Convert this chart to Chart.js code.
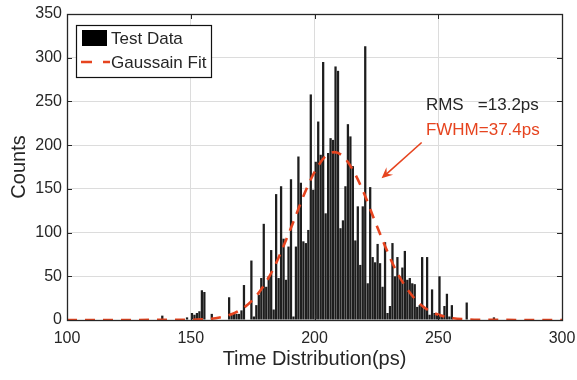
<!DOCTYPE html>
<html>
<head>
<meta charset="utf-8">
<script src="https://cdn.jsdelivr.net/npm/chart.js@4.4.1/dist/chart.umd.min.js"></script>
<style>
  html, body { margin: 0; padding: 0; background: #fff; }
  #wrap { width: 577px; height: 380px; }
</style>
</head>
<body>
<div id="wrap"><canvas id="chart" width="577" height="380"></canvas></div>
<script>
// Histogram: 1 ps bins, first bin starts at 135 ps
const binStart = 135;
const counts = [
  0, 0, 0, 5, 0, 0, 0, 0, 0, 0, 0, 0, 0, 3, 0,          // 135-149
  8, 6, 8, 10, 34, 32, 0, 0, 7, 0,                     // 150-159
  0, 0, 0, 0, 0, 26, 8, 7, 7, 7,                       // 160-169
  11, 40, 0, 0, 68, 4, 17, 29, 48, 110,                // 170-179
  38, 50, 80, 12, 144, 48, 153, 93, 46, 84,            // 180-189
  161, 4, 84, 187, 157, 90, 88, 103, 258, 149,         // 190-199
  181, 227, 189, 295, 122, 191, 208, 206, 290, 285,    // 200-209
  105, 114, 153, 224, 210, 176, 91, 130, 63, 130,      // 210-219
  313, 42, 152, 72, 66, 87, 65, 38, 89, 8,             // 220-229
  16, 88, 50, 72, 50, 60, 79, 46, 48, 42,              // 230-239
  41, 15, 17, 72, 13, 72, 6, 35, 8, 6,                 // 240-249
  50, 6, 16, 30, 4, 17, 0, 0, 0, 0,                    // 250-259
  0, 20, 0, 0, 0, 0, 0, 0, 0, 0,                       // 260-269
  0, 0, 3, 0, 0                                        // 270-274
];

// Gaussian fit curve
const fitX = [100, 150, 156, 160, 164, 168, 172, 176, 180, 184, 188, 192, 196, 200, 204, 208,
              212, 216, 220, 224, 228, 232, 236, 240, 244, 248, 252, 256, 260, 266, 300];
const fitY = [0, 0.3, 1, 2.1, 4.4, 8.4, 15.3, 26, 41.5, 62, 88, 116, 145, 169, 186, 192,
              186, 169, 145, 116, 88, 62, 41.5, 26, 15, 8.4, 4.4, 2.1, 1, 0.3, 0];

const xTicks = [100, 150, 200, 250, 300];
const yTicks = [0, 50, 100, 150, 200, 250, 300, 350];

const histLabel = 'Test Data';
const fitLabel = 'Gaussain Fit';
const rmsText = 'RMS   =13.2ps';
const fwhmText = 'FWHM=37.4ps';

const TEXT = '#262626';
const RED = '#e6441f';
const FONT = 'Arial, "Liberation Sans", Helvetica, sans-serif';

const histPoints = counts.map((c, i) => ({ x: binStart + i + 0.5, y: c }));
const fitPoints = fitX.map((x, i) => ({ x, y: fitY[i] }));

// box, inward ticks, legend and text notes
const decorations = {
  id: 'decorations',
  afterDraw(chart) {
    const { ctx, chartArea: a, scales: { x, y } } = chart;
    ctx.save();

    // grid ticks pointing inwards on all four sides
    ctx.strokeStyle = TEXT;
    ctx.lineWidth = 1;
    ctx.beginPath();
    xTicks.forEach(v => {
      const px = Math.round(x.getPixelForValue(v)) + 0.5;
      ctx.moveTo(px, a.bottom); ctx.lineTo(px, a.bottom - 5);
      ctx.moveTo(px, a.top); ctx.lineTo(px, a.top + 5);
    });
    yTicks.forEach(v => {
      const py = Math.round(y.getPixelForValue(v)) + 0.5;
      ctx.moveTo(a.left, py); ctx.lineTo(a.left + 5, py);
      ctx.moveTo(a.right, py); ctx.lineTo(a.right - 5, py);
    });
    ctx.stroke();
    ctx.lineWidth = 1.3;
    ctx.strokeRect(a.left + 0.5, a.top + 0.5, a.right - a.left, a.bottom - a.top);

    // legend
    const lx = a.left + 9, ly = a.top + 11, lw = 135, lh = 52;
    ctx.fillStyle = '#fff';
    ctx.fillRect(lx, ly, lw, lh);
    ctx.strokeStyle = '#111';
    ctx.lineWidth = 1.2;
    ctx.strokeRect(lx + 0.5, ly + 0.5, lw, lh);
    ctx.fillStyle = '#000';
    ctx.fillRect(lx + 6, ly + 5, 25, 16);
    ctx.font = '17px ' + FONT;
    ctx.textBaseline = 'middle';
    ctx.textAlign = 'left';
    ctx.fillStyle = TEXT;
    ctx.fillText(histLabel, lx + 35, ly + 14);
    ctx.fillText(fitLabel, lx + 35, ly + 38);
    ctx.strokeStyle = RED;
    ctx.lineWidth = 2.5;
    ctx.setLineDash([11, 11]);
    ctx.beginPath();
    ctx.moveTo(lx + 5, ly + 37);
    ctx.lineTo(lx + 34, ly + 37);
    ctx.stroke();
    ctx.setLineDash([]);

    // RMS / FWHM notes
    const tx = x.getPixelForValue(245);
    ctx.fillStyle = TEXT;
    ctx.fillText(rmsText, tx, y.getPixelForValue(246));
    ctx.fillStyle = RED;
    ctx.fillText(fwhmText, tx, y.getPixelForValue(217));

    // arrow pointing at the fit curve
    const sx = x.getPixelForValue(243.3), sy = y.getPixelForValue(203);
    const ex = x.getPixelForValue(227.1), ey = y.getPixelForValue(162);
    const ang = Math.atan2(ey - sy, ex - sx);
    ctx.strokeStyle = RED;
    ctx.lineWidth = 1.6;
    ctx.beginPath();
    ctx.moveTo(sx, sy);
    ctx.lineTo(ex - 6 * Math.cos(ang), ey - 6 * Math.sin(ang));
    ctx.stroke();
    ctx.beginPath();
    ctx.moveTo(ex, ey);
    ctx.lineTo(ex - 11 * Math.cos(ang) + 5 * Math.sin(ang), ey - 11 * Math.sin(ang) - 5 * Math.cos(ang));
    ctx.lineTo(ex - 7 * Math.cos(ang), ey - 7 * Math.sin(ang));
    ctx.lineTo(ex - 11 * Math.cos(ang) - 5 * Math.sin(ang), ey - 11 * Math.sin(ang) + 5 * Math.cos(ang));
    ctx.closePath();
    ctx.fillStyle = RED;
    ctx.fill();

    ctx.restore();
  }
};

new Chart(document.getElementById('chart'), {
  data: {
    datasets: [
      {
        type: 'line',
        label: fitLabel,
        data: fitPoints,
        borderColor: RED,
        borderWidth: 2.6,
        borderDash: [10, 8],
        pointRadius: 0,
        fill: false,
        cubicInterpolationMode: 'monotone',
        order: 0
      },
      {
        type: 'bar',
        label: histLabel,
        data: histPoints,
        backgroundColor: '#1e1e1e',
        borderWidth: 0,
        barPercentage: 0.92,
        categoryPercentage: 1,
        order: 1
      }
    ]
  },
  options: {
    responsive: false,
    animation: false,
    devicePixelRatio: 1,
    layout: { padding: { top: 14, right: 15, left: 0, bottom: 0 } },
    plugins: {
      legend: { display: false },
      tooltip: { enabled: false }
    },
    scales: {
      x: {
        type: 'linear',
        min: 100,
        max: 300,
        offset: false,
        afterFit: (s) => { s.height = 60; s.paddingLeft = 0; s.paddingRight = 0; },
        afterBuildTicks: (s) => { s.ticks = xTicks.map(v => ({ value: v })); },
        ticks: { color: TEXT, font: { family: FONT, size: 16 }, padding: 9, maxRotation: 0 },
        grid: { color: '#dcdcdc', drawTicks: false, offset: false },
        border: { display: false },
        title: {
          display: true,
          text: 'Time Distribution(ps)',
          color: TEXT,
          font: { family: FONT, size: 20 },
          padding: { top: 0, bottom: 9 }
        }
      },
      y: {
        min: 0,
        max: 350,
        afterFit: (s) => { s.width = 67; s.paddingTop = 0; s.paddingBottom = 0; },
        afterBuildTicks: (s) => { s.ticks = yTicks.map(v => ({ value: v })); },
        ticks: { color: TEXT, font: { family: FONT, size: 16 }, padding: 5 },
        grid: { color: '#dcdcdc', drawTicks: false },
        border: { display: false },
        title: {
          display: true,
          text: 'Counts',
          color: TEXT,
          font: { family: FONT, size: 20 },
          padding: { top: 7, bottom: 4 }
        }
      }
    }
  },
  plugins: [decorations]
});
</script>
</body>
</html>
